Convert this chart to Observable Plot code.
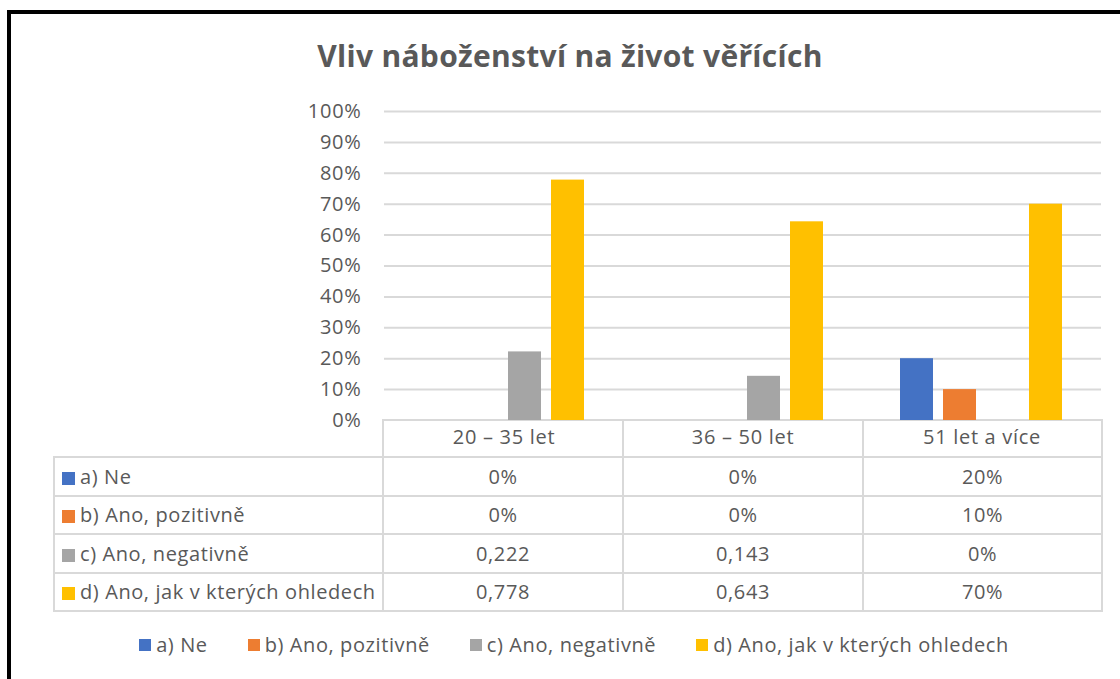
<!DOCTYPE html>
<html>
<head>
<meta charset="utf-8">
<script src="https://cdn.jsdelivr.net/npm/d3@7"></script>
<script src="https://cdn.jsdelivr.net/npm/@observablehq/plot@0.6"></script>
<style>
  html, body { margin: 0; padding: 0; background: #fff; overflow: hidden; width: 1120px; height: 679px; }
  body { position: relative; font-family: "Open Sans", Lato, sans-serif; color: #595959; }
  #frame { position: absolute; left: 7px; top: 10px; width: 1300px; height: 900px; border: 4px solid #000; box-sizing: border-box; }
  #title { position: absolute; left: 0; width: 1140px; top: 35px; text-align: center; font-weight: bold; font-size: 30px; letter-spacing: 0.3px; color: #595959; }
  #chart { position: absolute; left: 0; top: 90px; z-index: 2; }
  #chart svg { background: transparent; }
  #chart svg text { letter-spacing: 0.7px; }
  #dt { position: absolute; left: 53px; top: 419px; border-collapse: collapse; table-layout: fixed; z-index: 1; font-size: 20px; letter-spacing: 0.6px; color: #595959; }
  #dt td { border: 2px solid #d9d9d9; padding: 0; text-align: center; height: 36.5px; white-space: nowrap; }
  #dt tr.head td { height: 35px; }
  #dt td.blank { border: none; }
  #dt td.name { text-align: left; padding-left: 7px; }
  .sw { display: inline-block; width: 13px; height: 13px; margin-right: 5px; vertical-align: -1px; }
  #legend { position: absolute; left: 0; width: 1148px; top: 631px; display: flex; justify-content: center; gap: 40px; font-size: 20px; letter-spacing: 0.6px; color: #595959; }
  #legend .item { display: flex; align-items: center; white-space: nowrap; }
  #legend .sw { width: 12px; height: 12px; margin-right: 5px; }
</style>
</head>
<body>
<div id="frame"></div>
<div id="title">Vliv náboženství na život věřících</div>
<div id="chart"></div>
<table id="dt"></table>
<div id="legend"></div>
<script>
// ---- data ----
const categories = ["20 – 35 let", "36 – 50 let", "51 let a více"];
const series = ["a) Ne", "b) Ano, pozitivně", "c) Ano, negativně", "d) Ano, jak v kterých ohledech"];
const colors = ["#4472C4", "#ED7D31", "#A5A5A5", "#FFC000"];
const valuesA = [0, 0, 0.20];
const valuesB = [0, 0, 0.10];
const valuesC = [0.222, 0.143, 0];
const valuesD = [0.778, 0.643, 0.70];
const tableA = ["0%", "0%", "20%"];
const tableB = ["0%", "0%", "10%"];
const tableC = ["0,222", "0,143", "0%"];
const tableD = ["0,778", "0,643", "70%"];
const yTicks = [0, 0.1, 0.2, 0.3, 0.4, 0.5, 0.6, 0.7, 0.8, 0.9, 1.0];

const seriesValues = [valuesA, valuesB, valuesC, valuesD];
const seriesTable = [tableA, tableB, tableC, tableD];

const data = [];
series.forEach((s, i) => categories.forEach((c, j) => data.push({series: s, category: c, value: seriesValues[i][j]})));

const plot = Plot.plot({
  width: 1120,
  height: 367,
  marginTop: 21,
  marginBottom: 37,
  marginLeft: 383,
  marginRight: 18,
  style: {fontFamily: "'Open Sans', Lato, sans-serif", fontSize: "20px", color: "#595959", background: "transparent"},
  fx: {domain: categories, padding: 0, label: null, axis: "bottom", tickSize: 0, tickPadding: 9},
  x: {domain: series, paddingInner: 0.227, paddingOuter: 0.84, axis: null},
  y: {domain: [0, 1], ticks: yTicks, tickFormat: d => Math.round(d * 100) + "%", tickSize: 0, tickPadding: 23, label: null},
  color: {domain: series, range: colors},
  marks: [
    Plot.ruleY(yTicks.filter(d => d > 0), {stroke: "#d9d9d9", strokeWidth: 2}),
    Plot.barY(data, {fx: "category", x: "series", y: "value", fill: "series"})
  ]
});
document.getElementById("chart").appendChild(plot);

// ---- data table ----
const colWidths = [329, 240, 240, 239];
const dt = document.getElementById("dt");
const cg = document.createElement("colgroup");
colWidths.forEach(w => { const col = document.createElement("col"); col.style.width = w + "px"; cg.appendChild(col); });
dt.appendChild(cg);
const head = document.createElement("tr");
head.className = "head";
const blank = document.createElement("td"); blank.className = "blank"; head.appendChild(blank);
categories.forEach(() => { head.appendChild(document.createElement("td")); });
dt.appendChild(head);
series.forEach((s, i) => {
  const tr = document.createElement("tr");
  const name = document.createElement("td");
  name.className = "name";
  name.innerHTML = `<span class="sw" style="background:${colors[i]}"></span>`;
  name.appendChild(document.createTextNode(s));
  tr.appendChild(name);
  seriesTable[i].forEach(t => { const td = document.createElement("td"); td.textContent = t; tr.appendChild(td); });
  dt.appendChild(tr);
});

// ---- legend ----
const lg = document.getElementById("legend");
series.forEach((s, i) => {
  const it = document.createElement("div");
  it.className = "item";
  it.innerHTML = `<span class="sw" style="background:${colors[i]}"></span>`;
  it.appendChild(document.createTextNode(s));
  lg.appendChild(it);
});
</script>
</body>
</html>
